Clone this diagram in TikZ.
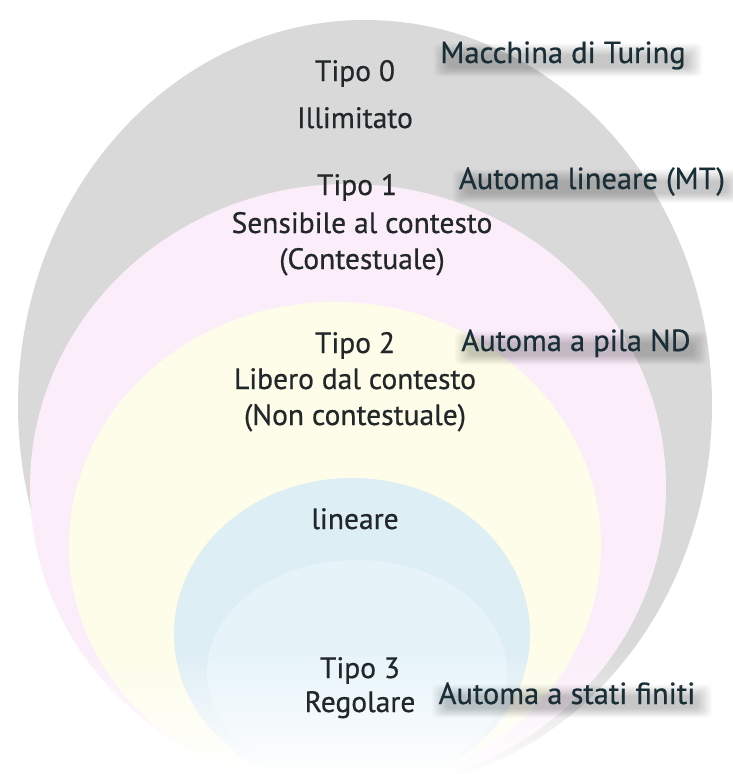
\documentclass[tikz,border=0pt]{standalone}
\usepackage{fontspec}
\setmainfont{PT Sans}
\newfontfamily\medfont[FakeBold=0.6]{PT Sans}
\usetikzlibrary{fadings,calc}
\pgfdeclarelayer{bg}
\pgfdeclarelayer{shad}
\pgfsetlayers{bg,shad,main}
\definecolor{grayC}{HTML}{D9D9D9}
\definecolor{pinkC}{HTML}{FBEEFA}
\definecolor{yellowC}{HTML}{FDFDE9}
\definecolor{blueC}{HTML}{DEEEF5}
\definecolor{blueL}{HTML}{E6F4FA}
\definecolor{txtC}{HTML}{22272A}
\definecolor{lblC}{HTML}{1A2E38}
\tikzset{
  lefttxt/.style={anchor=base, font=\medfont\fontsize{29.5}{34}\selectfont, text=txtC, inner sep=0pt},
  lbltxt/.style={anchor=base, font=\medfont\fontsize{30.5}{36}\selectfont, text=lblC, inner sep=0pt},
}
\newcommand{\shadowlabel}[3]{%
  \node[lbltxt] (#1) at (#2) {#3};
  \begin{pgfonlayer}{shad}
  \foreach \i in {1,...,14}{
    \fill[black, opacity=0.014, rounded corners=5pt]
      ($(#1.base west)+(9-\i*1.1,-7-\i*0.9)$) rectangle ($(#1.base east)+(1+\i*1.1,4+\i*0.7)$);
  }
  \end{pgfonlayer}
}
\begin{document}
\begin{tikzpicture}[x=1pt,y=-1pt]
\useasboundingbox (0,0) rectangle (732,774);
\begin{pgfonlayer}{bg}
\fill[white] (0,0) rectangle (732,774);
% nested sets
\fill[grayC] (365,405) ellipse [x radius=347, y radius=385];
\fill[pinkC] (348,487) ellipse [x radius=318, y radius=303];
\fill[yellowC] (335,546) ellipse [x radius=266, y radius=244];
\fill[blueC] (352,634) ellipse [x radius=178, y radius=156];
\fill[blueL] (357,672) ellipse [x radius=150, y radius=112];
% bottom fade
\fill[white, path fading=north] (0,650) rectangle (732,775);
\end{pgfonlayer}
% left texts
\node[lefttxt] (t0) at (355,81) {Tipo 0};
\node[lefttxt] (t0b) at (355,128) {Illimitato};
\node[lefttxt] (t1) at (357,195) {Tipo 1};
\node[lefttxt] (t1b) at (362,233) {Sensibile al contesto};
\node[lefttxt] (t1c) at (362,269) {(Contestuale)};
\node[lefttxt] (t2) at (355,353) {Tipo 2};
\node[lefttxt] (t2b) at (355,389) {Libero dal contesto};
\node[lefttxt] (t2c) at (355,425) {(Non contestuale)};
\node[lefttxt] (lin) at (355,529) {lineare};
\node[lefttxt] (t3) at (360,678) {Tipo 3};
\node[lefttxt] (t3b) at (360,712) {Regolare};
% right labels with shadow
\coordinate (p0) at (563,63);
\coordinate (p1) at (592,189);
\coordinate (p2) at (576,351);
\coordinate (p3) at (567,704);
\shadowlabel{a0}{p0}{Macchina di Turing}
\shadowlabel{a1}{p1}{Automa lineare (MT)}
\shadowlabel{a2}{p2}{Automa a pila ND}
\shadowlabel{a3}{p3}{Automa a stati finiti}
\end{tikzpicture}
\end{document}
